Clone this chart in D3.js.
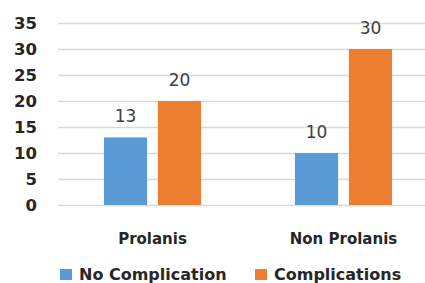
<!DOCTYPE html>
<html>
<head>
<meta charset="utf-8">
<script src="https://cdn.jsdelivr.net/npm/d3@7"></script>
<style>
  body { margin: 0; background: #fff; }
  svg { display: block; }
  .tick-lbl { font-family: "DejaVu Sans", sans-serif; font-weight: bold; font-size: 16.5px; fill: #262626; }
  .cat-lbl { font-family: "DejaVu Sans", sans-serif; font-weight: bold; font-size: 15px; fill: #262626; }
  .val-lbl { font-family: "DejaVu Sans", sans-serif; font-size: 17px; fill: #404040; }
  .leg-lbl { font-family: "DejaVu Sans", sans-serif; font-weight: bold; font-size: 16px; fill: #262626; }
</style>
</head>
<body>
<div id="chart"></div>
<script>
var categories = ["Prolanis", "Non Prolanis"];
var seriesNames = ["No Complication", "Complications"];
var noComplication = [13, 10];
var complications = [20, 30];
var yTicks = [0, 5, 10, 15, 20, 25, 30, 35];

var colors = {
    "No Complication": "#5B9BD5",
    "Complications": "#ED7D31"
};

var width = 425,
    height = 283;

var svg = d3.select("#chart").append("svg")
    .attr("width", width)
    .attr("height", height);

// x: group centres at ~152 and ~343
var x0 = d3.scaleBand()
    .domain(categories)
    .range([57, 439])
    .paddingInner(0)
    .paddingOuter(0);

var x1 = d3.scaleBand()
    .domain(seriesNames)
    .range([0, x0.bandwidth()])
    .paddingInner(0.2)
    .paddingOuter(0.87);

var y = d3.scaleLinear()
    .domain([0, 35])
    .range([205, 23]);

// gridlines
svg.append("g")
    .selectAll("line")
    .data(yTicks)
    .enter()
    .append("line")
    .attr("x1", 58)
    .attr("x2", 425)
    .attr("y1", function (d) { return y(d) + 0.5; })
    .attr("y2", function (d) { return y(d) + 0.5; })
    .attr("stroke", "#d9d9d9")
    .attr("stroke-width", 1.5);

// y tick labels
svg.append("g")
    .selectAll("text")
    .data(yTicks)
    .enter()
    .append("text")
    .attr("class", "tick-lbl")
    .attr("x", 37)
    .attr("y", function (d) { return y(d) + 6; })
    .attr("text-anchor", "end")
    .text(function (d) { return d; });

var rows = categories.map(function (c, i) {
    return {
        cat: c,
        values: [
            { key: seriesNames[0], value: noComplication[i] },
            { key: seriesNames[1], value: complications[i] }
        ]
    };
});

var group = svg.append("g")
    .selectAll("g")
    .data(rows)
    .enter()
    .append("g")
    .attr("transform", function (d) { return "translate(" + x0(d.cat) + ",0)"; });

group.selectAll("rect")
    .data(function (d) { return d.values; })
    .enter()
    .append("rect")
    .attr("x", function (d) { return x1(d.key); })
    .attr("width", x1.bandwidth())
    .attr("y", function (d) { return y(d.value); })
    .attr("height", function (d) { return y(0) - y(d.value); })
    .attr("fill", function (d) { return colors[d.key]; });

group.selectAll(".val-lbl")
    .data(function (d) { return d.values; })
    .enter()
    .append("text")
    .attr("class", "val-lbl")
    .attr("x", function (d) { return x1(d.key) + x1.bandwidth() / 2; })
    .attr("y", function (d) { return y(d.value) - 15; })
    .attr("text-anchor", "middle")
    .text(function (d) { return d.value; });

// category labels
svg.append("g")
    .selectAll("text")
    .data(categories)
    .enter()
    .append("text")
    .attr("class", "cat-lbl")
    .attr("x", function (d) { return x0(d) + x0.bandwidth() / 2; })
    .attr("y", 244)
    .attr("text-anchor", "middle")
    .text(function (d) { return d; });

// legend
var legendX = [60, 255];
var legend = svg.append("g")
    .selectAll("g")
    .data(seriesNames)
    .enter()
    .append("g")
    .attr("transform", function (d, i) { return "translate(" + legendX[i] + ",269)"; });

legend.append("rect")
    .attr("width", 12)
    .attr("height", 11)
    .attr("fill", function (d) { return colors[d]; });

legend.append("text")
    .attr("class", "leg-lbl")
    .attr("x", 19)
    .attr("y", 11)
    .text(function (d) { return d; });
</script>
</body>
</html>
